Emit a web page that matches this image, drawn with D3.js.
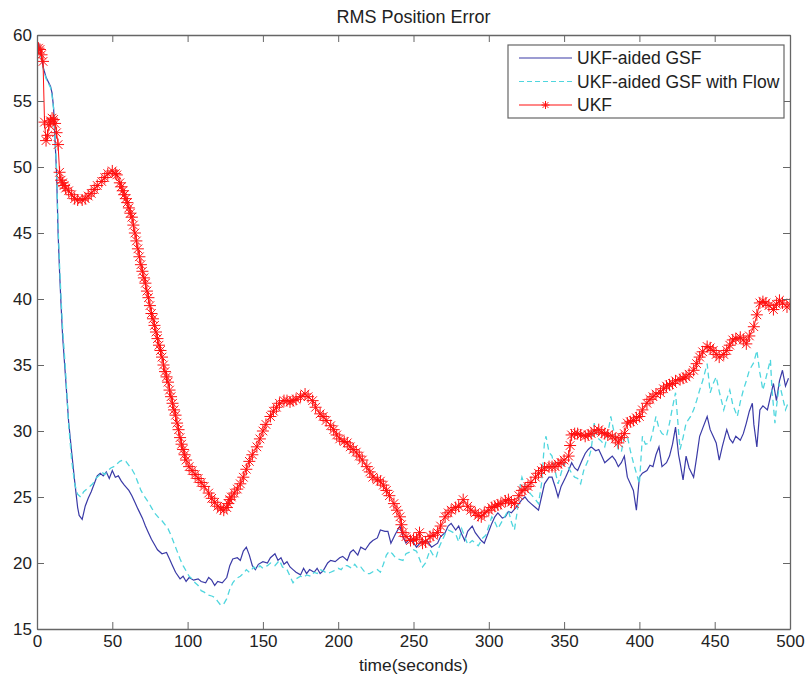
<!DOCTYPE html>
<html>
<head>
<meta charset="utf-8">
<script src="https://cdn.jsdelivr.net/npm/d3@7"></script>
<style>
  body { margin: 0; background: #fff; }
  text { font-family: "Liberation Sans", Arial, sans-serif; fill: #222; }
</style>
</head>
<body>
<div id="vis"></div>
<script>
// frame
const FRAME_WIDTH = 809;
const FRAME_HEIGHT = 682;
const MARGINS = {left: 37, right: 19, top: 35, bottom: 53};
const VIS_WIDTH = FRAME_WIDTH - MARGINS.left - MARGINS.right;
const VIS_HEIGHT = FRAME_HEIGHT - MARGINS.top - MARGINS.bottom;

// data (time in seconds, RMS error)
const gsfTime = [1,2,4,6,9,10,11,12,13,14,15,16,17,19,21,23,25,27,28,30,32,34,36,38,40,42,44,46,48,50,52,54,56,58,61,63,65,67,70,72,74,76,78,80,83,86,88,90,92,95,97,99,101,104,107,109,112,114,116,118,120,123,126,128,130,133,135,137,139,141,143,145,147,150,153,155,158,160,162,164,166,168,170,172,175,177,179,181,184,186,188,190,193,195,198,201,203,206,208,210,213,215,218,221,223,226,228,231,233,235,238,241,243,245,248,252,255,259,262,266,268,271,273,275,278,280,282,284,286,289,291,293,295,297,300,302,304,306,309,311,313,315,318,320,322,324,326,328,331,333,335,337,340,342,344,346,348,351,353,355,357,359,362,364,366,368,371,373,375,377,380,382,384,386,388,390,392,394,396,398,400,402,405,407,409,411,413,415,418,420,422,424,426,427,429,431,433,436,438,440,442,445,447,449,451,453,455,458,460,462,464,467,469,471,473,475,476,478,480,482,485,487,489,491,493,495,497,499];
const gsfError = [59.4,58.9,57.6,56.8,56.1,55.6,54.5,52.0,49.5,45.0,42.0,39.5,37.2,34.0,30.7,28.4,26.2,24.2,23.6,23.3,24.3,24.9,25.4,26.0,26.6,26.8,26.6,26.9,26.4,27.0,26.5,26.6,26.2,25.9,25.5,25.1,24.6,24.1,23.4,22.8,22.3,21.8,21.4,21.0,20.7,20.8,20.3,19.8,19.3,18.8,19.0,18.6,18.9,18.7,18.8,18.6,18.5,18.9,18.7,18.3,18.6,18.5,18.9,19.8,20.3,20.4,20.2,20.9,21.2,20.6,19.8,19.5,19.9,20.1,20.0,20.4,20.7,20.2,20.4,19.9,20.1,19.7,19.5,19.3,19.1,19.6,19.2,19.5,19.3,19.6,19.2,19.4,20.0,20.2,20.1,20.4,20.5,20.2,20.8,21.0,20.6,21.2,21.0,21.5,21.7,21.9,22.5,22.4,22.4,21.5,22.2,22.8,22.0,21.5,21.9,21.2,21.6,21.7,21.2,21.5,22.0,22.3,22.8,23.0,22.5,22.8,22.2,21.7,22.4,22.8,22.3,22.0,21.7,21.5,22.4,23.0,23.5,23.8,23.4,23.5,23.9,23.8,24.2,24.5,24.8,25.0,24.7,24.5,24.2,24.0,25.0,26.0,26.5,26.5,25.8,25.0,25.8,26.5,27.0,27.6,27.2,27.0,27.8,28.3,28.6,28.8,28.5,28.6,28.1,27.6,27.9,28.1,27.8,27.3,27.6,28.1,26.5,26.0,25.5,24.0,26.5,26.8,27.0,27.4,27.3,28.2,28.8,27.3,27.6,28.1,29.0,30.3,28.2,27.6,26.3,28.1,27.2,26.5,28.0,29.6,30.2,31.1,30.1,29.6,29.1,27.8,28.8,30.1,29.4,29.1,29.6,29.3,29.8,30.6,31.5,32.1,30.5,28.8,31.6,31.9,31.6,32.6,33.6,32.3,33.8,34.6,33.4,34.0];

const flowTime = [1,2,4,6,9,10,11,12,13,14,15,16,17,19,21,23,25,27,29,31,33,35,37,39,41,43,45,47,49,51,53,55,57,59,61,63,65,67,69,71,74,76,78,81,83,85,87,89,91,93,95,97,99,101,103,105,107,109,111,113,116,118,120,122,124,126,128,130,132,135,137,139,141,144,146,148,150,153,155,158,161,163,166,168,170,172,175,177,179,182,184,186,188,190,193,195,197,200,202,204,206,209,211,213,215,217,219,221,224,226,228,230,232,234,236,238,240,243,245,247,250,252,254,256,258,261,263,265,267,269,271,273,275,278,280,282,284,286,289,291,293,296,298,300,302,304,306,308,311,313,315,317,319,321,322,324,326,328,331,333,335,337,338,340,342,344,346,348,350,353,355,357,359,361,363,366,368,370,372,375,377,379,381,383,386,388,390,392,394,396,398,400,402,404,407,409,411,413,415,418,420,422,424,426,427,429,431,434,436,438,440,442,445,447,449,451,453,456,458,460,462,465,467,469,471,473,476,478,480,482,484,487,488,490,491,493,495,497,499];
const flowError = [59.2,58.7,57.5,56.7,56.0,55.4,54.4,52.2,49.8,45.5,42.5,40.0,37.8,34.5,30.5,27.8,26.0,25.2,25.0,25.4,25.6,25.8,26.0,26.4,26.6,26.9,26.7,27.0,27.2,27.3,27.5,27.7,27.8,27.7,27.4,27.1,26.7,26.1,25.5,25.1,24.6,24.2,23.8,23.4,23.2,22.9,22.6,22.1,21.5,20.9,20.3,19.8,19.4,19.0,18.8,18.5,18.3,17.9,17.8,17.6,17.5,17.4,17.1,16.8,16.9,17.3,18.0,18.5,18.8,19.0,19.2,19.5,19.3,19.7,19.5,19.8,19.6,19.8,20.0,19.8,20.2,19.7,19.5,19.0,18.5,18.8,19.0,18.9,19.1,19.0,19.3,19.2,19.5,19.4,19.2,19.3,19.4,19.6,19.5,19.8,19.8,19.6,19.9,19.6,19.7,19.4,19.2,19.2,19.4,19.5,19.3,19.9,20.6,20.9,20.7,20.4,20.3,20.2,20.7,20.8,21.0,20.9,20.3,19.7,20.0,21.0,20.6,20.4,21.2,21.7,22.2,22.5,22.4,22.2,21.6,22.6,22.0,21.4,21.7,21.5,21.3,21.9,22.1,22.8,23.5,23.1,22.6,23.0,23.6,24.0,23.1,22.5,24.0,26.0,26.5,25.8,25.5,25.2,24.8,24.5,26.0,29.2,29.6,28.4,28.1,27.0,26.0,26.8,27.6,27.2,26.8,26.5,26.4,26.0,27.0,27.8,28.6,30.6,29.5,29.2,28.8,29.8,31.1,30.0,28.6,28.4,29.6,29.6,28.5,27.6,26.8,26.0,29.6,29.0,29.1,30.0,31.1,30.2,29.8,29.6,30.6,31.8,32.9,30.0,28.6,29.5,30.6,31.1,31.6,32.3,33.1,33.8,35.1,32.9,33.6,34.1,33.0,31.6,32.4,33.1,32.0,31.1,32.2,33.1,33.8,34.6,35.2,36.1,34.4,33.1,34.0,35.4,33.2,30.6,31.8,33.6,32.6,31.6,32.2];

const ukfTime = [0,1,2,3,4,5,6,7,8,9,10,11,12,13,14,15,16,17,18,19,21,23,25,27,30,32,34,36,38,40,43,45,47,50,52,53,55,56,57,58,59,60,61,62,63,64,65,66,67,68,69,70,71,72,73,74,75,76,77,78,79,80,81,82,83,84,85,86,87,88,89,90,91,92,93,94,95,96,97,98,99,101,103,105,107,109,111,114,116,118,120,122,124,126,127,128,129,131,133,135,137,139,141,143,146,148,150,152,155,157,159,161,164,166,168,170,172,175,178,180,183,185,188,190,192,195,197,199,201,204,206,208,210,212,214,216,219,221,223,226,228,230,232,234,237,239,241,242,243,245,248,250,252,254,256,258,261,263,266,268,271,273,275,278,280,283,286,288,291,293,295,297,300,302,304,306,308,311,313,315,317,320,322,324,326,328,331,333,335,337,340,342,344,346,348,350,353,354,355,357,359,361,364,366,368,370,373,375,377,379,382,384,386,388,390,392,394,396,398,400,402,405,407,409,411,414,416,418,420,422,424,427,429,431,433,436,438,440,442,445,447,449,451,453,456,458,460,462,464,467,469,471,473,476,478,480,482,484,486,489,491,493,495,498,500];
const ukfError = [58.8,59.0,58.9,58.5,58.0,53.4,52.0,52.4,53.2,53.5,53.7,53.6,53.3,52.6,51.7,49.6,49.0,48.8,48.6,48.4,48.2,47.9,47.6,47.5,47.5,47.6,47.8,48.0,48.3,48.6,48.9,49.2,49.5,49.7,49.5,49.4,48.8,48.5,48.2,47.9,47.6,47.3,46.9,46.5,46.2,45.6,45.0,44.4,43.8,43.2,42.6,42.1,41.6,41.2,40.6,40.1,39.5,38.9,38.5,38.0,37.5,37.0,36.5,36.1,35.6,35.0,34.5,34.1,33.7,33.1,32.6,32.1,31.6,31.2,30.6,30.1,29.5,29.0,28.6,28.2,27.8,27.3,27.0,26.7,26.4,26.1,25.8,25.3,24.9,24.6,24.3,24.1,24.0,24.2,24.5,24.8,25.0,25.3,25.6,26.0,26.5,27.1,27.7,28.2,28.8,29.4,30.0,30.5,31.1,31.5,31.8,32.1,32.3,32.3,32.2,32.3,32.4,32.6,32.8,32.6,32.3,31.8,31.3,31.1,30.8,30.4,30.1,29.7,29.4,29.2,29.1,28.8,28.6,28.4,28.1,27.8,27.3,26.9,26.5,26.3,26.2,25.9,25.5,25.1,24.5,24.0,23.5,22.9,22.3,22.0,21.7,21.8,21.8,22.3,21.5,21.6,22.0,22.1,22.3,22.8,23.5,23.8,24.0,24.2,24.3,24.8,24.3,24.0,23.8,23.6,23.5,23.8,24.0,24.2,24.3,24.4,24.5,24.7,24.8,24.6,24.5,25.1,25.5,25.6,25.8,26.1,26.5,26.8,27.0,27.2,27.3,27.3,27.3,27.5,27.6,27.8,28.1,28.9,29.7,29.8,29.8,29.7,29.6,29.7,29.8,30.0,30.1,29.9,29.8,29.7,29.6,29.4,29.1,29.5,29.8,30.6,30.7,30.8,31.0,31.1,31.6,32.1,32.4,32.6,32.8,32.9,33.2,33.4,33.5,33.6,33.8,33.9,34.0,34.1,34.3,34.6,35.1,35.6,36.0,36.4,36.3,36.1,35.8,35.6,35.8,36.1,36.5,36.9,37.0,37.1,36.9,36.6,37.2,37.9,38.8,39.7,39.8,39.7,39.5,39.2,39.6,39.9,39.7,39.4,39.6];

const seriesNames = ['UKF-aided GSF', 'UKF-aided GSF with Flow', 'UKF'];
const xTicks = [0, 50, 100, 150, 200, 250, 300, 350, 400, 450, 500];
const yTicks = [15, 20, 25, 30, 35, 40, 45, 50, 55, 60];

const BLUE = '#3a3aa6';
const CYAN = '#4fd6de';
const RED = '#ff1010';
const AXIS = '#666';

const FRAME = d3.select('#vis')
    .append('svg')
        .attr('width', FRAME_WIDTH)
        .attr('height', FRAME_HEIGHT);

const X_SCALE = d3.scaleLinear().domain([0, 500]).range([0, VIS_WIDTH]);
const Y_SCALE = d3.scaleLinear().domain([15, 60]).range([VIS_HEIGHT, 0]);

const PLOT = FRAME.append('g')
    .attr('transform', 'translate(' + MARGINS.left + ',' + MARGINS.top + ')');

PLOT.append('clipPath').attr('id', 'clip')
    .append('rect').attr('width', VIS_WIDTH).attr('height', VIS_HEIGHT);

// lines
const line = d3.line()
    .x(d => X_SCALE(d[0]))
    .y(d => Y_SCALE(d[1]));

const zip = (a, b) => a.map((t, i) => [t, b[i]]);

const LINES = PLOT.append('g').attr('clip-path', 'url(#clip)');

LINES.append('path')
    .datum(zip(gsfTime, gsfError))
    .attr('d', line)
    .attr('fill', 'none')
    .attr('stroke', BLUE)
    .attr('stroke-width', 1.2);

LINES.append('path')
    .datum(zip(flowTime, flowError))
    .attr('d', line)
    .attr('fill', 'none')
    .attr('stroke', CYAN)
    .attr('stroke-width', 1.3)
    .attr('stroke-dasharray', '6,4');

LINES.append('path')
    .datum(zip(ukfTime, ukfError))
    .attr('d', line)
    .attr('fill', 'none')
    .attr('stroke', RED)
    .attr('stroke-width', 1);

// asterisk marker, like matlab '*'
function star(r) {
    const d = r * 0.72;
    return 'M' + (-r) + ',0L' + r + ',0M0,' + (-r) + 'L0,' + r +
           'M' + (-d) + ',' + (-d) + 'L' + d + ',' + d +
           'M' + (-d) + ',' + d + 'L' + d + ',' + (-d);
}

LINES.selectAll('.mark')
    .data(zip(ukfTime, ukfError))
    .enter()
    .append('path')
    .attr('class', 'mark')
    .attr('transform', d => 'translate(' + X_SCALE(d[0]) + ',' + Y_SCALE(d[1]) + ')')
    .attr('d', star(6))
    .attr('stroke', RED)
    .attr('stroke-width', 1)
    .attr('fill', 'none');

// axes with inward ticks on all four sides
const TICK = 7;
PLOT.append('g')
    .attr('transform', 'translate(0,' + VIS_HEIGHT + ')')
    .call(d3.axisBottom(X_SCALE).tickValues(xTicks).tickSizeInner(-TICK).tickSizeOuter(0).tickPadding(6))
    .call(g => g.selectAll('text').attr('font-size', '17px').attr('fill', '#222'));
PLOT.append('g')
    .call(d3.axisTop(X_SCALE).tickValues(xTicks).tickSizeInner(-TICK).tickSizeOuter(0).tickFormat(''));
PLOT.append('g')
    .call(d3.axisLeft(Y_SCALE).tickValues(yTicks).tickSizeInner(-TICK).tickSizeOuter(0).tickPadding(5))
    .call(g => g.selectAll('text').attr('font-size', '17px').attr('fill', '#222'));
PLOT.append('g')
    .attr('transform', 'translate(' + VIS_WIDTH + ',0)')
    .call(d3.axisRight(Y_SCALE).tickValues(yTicks).tickSizeInner(-TICK).tickSizeOuter(0).tickFormat(''));

PLOT.selectAll('.domain').attr('stroke', AXIS).attr('stroke-width', 1.3);
PLOT.selectAll('.tick line').attr('stroke', AXIS);
PLOT.selectAll('.tick text').attr('font-family', '"Liberation Sans", Arial, sans-serif');

// title and label
FRAME.append('text')
    .attr('x', MARGINS.left + VIS_WIDTH / 2)
    .attr('y', 23)
    .attr('text-anchor', 'middle')
    .attr('font-size', '18px')
    .text('RMS Position Error');

FRAME.append('text')
    .attr('x', MARGINS.left + VIS_WIDTH / 2)
    .attr('y', 671)
    .attr('text-anchor', 'middle')
    .attr('font-size', '17.4px')
    .text('time(seconds)');

// legend
const LEG = FRAME.append('g').attr('transform', 'translate(508,45)');
LEG.append('rect')
    .attr('width', 276).attr('height', 73)
    .attr('fill', '#fff').attr('stroke', AXIS).attr('stroke-width', 1.2);

const legStyles = [
    {color: BLUE, dash: null, marker: false},
    {color: CYAN, dash: '5,3', marker: false},
    {color: RED, dash: null, marker: true}
];
seriesNames.forEach((name, i) => {
    const y = 13 + i * 23.5;
    LEG.append('line')
        .attr('x1', 11).attr('x2', 64).attr('y1', y).attr('y2', y)
        .attr('stroke', legStyles[i].color)
        .attr('stroke-width', 1.2)
        .attr('stroke-dasharray', legStyles[i].dash);
    if (legStyles[i].marker) {
        LEG.append('path')
            .attr('transform', 'translate(37.5,' + y + ')')
            .attr('d', star(4))
            .attr('stroke', RED).attr('fill', 'none');
    }
    LEG.append('text')
        .attr('x', 69).attr('y', y + 6)
        .attr('font-size', '17.5px')
        .text(name);
});
</script>
</body>
</html>
